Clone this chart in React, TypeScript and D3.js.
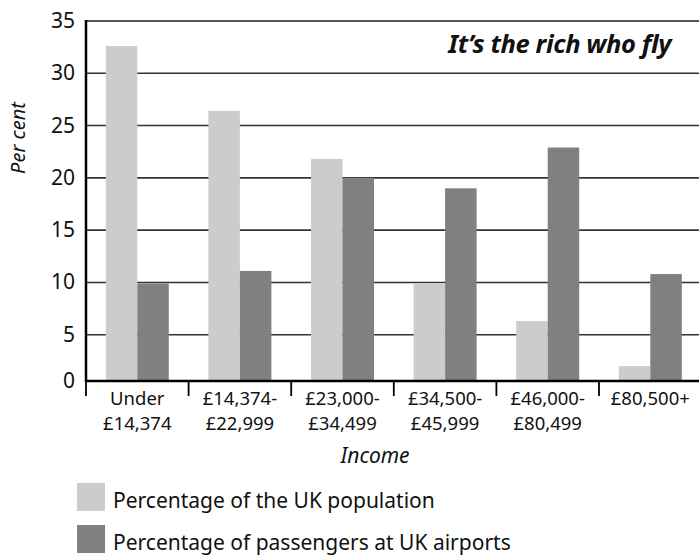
import React from "react";
import * as d3 from "d3";

const categories = [
  ["Under", "£14,374"],
  ["£14,374-", "£22,999"],
  ["£23,000-", "£34,499"],
  ["£34,500-", "£45,999"],
  ["£46,000-", "£80,499"],
  ["£80,500+"],
];
const populationPct = [32.6, 26.4, 21.8, 9.9, 6.3, 2.0];
const passengersPct = [9.9, 11.1, 20.0, 19.0, 22.9, 10.8];
const yTicks = [0, 5, 10, 15, 20, 25, 30, 35];
const seriesNames = ["Percentage of the UK population", "Percentage of passengers at UK airports"];
const seriesColors = ["#cccccc", "#808080"];

const W = 699;
const H = 559;
const left = 86;
const right = 701.6;
const top = 21;
const zeroY = 387;
const baseY = 381;
const FONT = "'Noto Sans', sans-serif";

export default function App() {
  const x0 = d3.scaleBand<number>().domain(d3.range(categories.length)).range([left, right]).padding(0);
  const groupW = 63;
  const x1 = d3.scaleBand<number>().domain([0, 1]).range([0, groupW]).padding(0);
  const y = d3.scaleLinear().domain([0, 35]).range([zeroY, top]);
  const series = [populationPct, passengersPct];

  return (
    <svg width={W} height={H} style={{ position: "absolute", left: 0, top: 0, display: "block" }} fontFamily={FONT}>
      <rect width={W} height={H} fill="#fff" />
      {/* gridlines */}
      {yTicks.filter((t) => t > 0 && t < 35).map((t) => (
        <line key={t} x1={left} x2={W} y1={y(t)} y2={y(t)} stroke="#333" strokeWidth={1.6} />
      ))}
      <line x1={left} x2={W} y1={y(35)} y2={y(35)} stroke="#555" strokeWidth={2} />
      {/* bars */}
      {series.map((vals, s) =>
        vals.map((v, i) => {
          const bx = (x0(i) as number) + (x0.bandwidth() - groupW) / 2 + (x1(s) as number);
          const yt = y(v);
          return (
            <rect key={`${s}-${i}`} x={bx} y={yt} width={x1.bandwidth()} height={Math.max(0, baseY - yt)} fill={seriesColors[s]} />
          );
        })
      )}
      {/* axes */}
      <line x1={left} x2={left} y1={top - 1} y2={baseY + 1} stroke="#000" strokeWidth={2.5} />
      <line x1={left - 1} x2={W} y1={baseY} y2={baseY} stroke="#000" strokeWidth={2.5} />
      {categories.map((_, i) => (
        <line key={i} x1={x0(i) as number} x2={x0(i) as number} y1={baseY} y2={baseY + 15} stroke="#000" strokeWidth={1.8} />
      ))}
      {/* y tick labels */}
      {yTicks.map((t) => (
        <text key={t} x={75} y={(t === 0 ? baseY : y(t)) + 7} textAnchor="end" fontSize={21} fill="#111">
          {t}
        </text>
      ))}
      {/* x labels */}
      {categories.map((lines, i) => (
        <text key={i} x={(x0(i) as number) + x0.bandwidth() / 2} textAnchor="middle" fontSize={18.5} fill="#111">
          {lines.map((l, k) => (
            <tspan key={k} x={(x0(i) as number) + x0.bandwidth() / 2} y={405 + k * 25}>
              {l}
            </tspan>
          ))}
        </text>
      ))}
      <text x={375} y={463} textAnchor="middle" fontSize={21} fontStyle="italic" fill="#111">
        Income
      </text>
      <text transform={`translate(25,138) rotate(-90)`} textAnchor="middle" fontSize={20} fontStyle="italic" fill="#111">
        Per cent
      </text>
      <text x={671} y={53} textAnchor="end" fontSize={25.5} fontWeight="bold" fontStyle="italic" letterSpacing={-0.4} fill="#111">
        It’s the rich who fly
      </text>
      {/* legend */}
      {seriesNames.map((n, s) => (
        <g key={n} transform={`translate(77,${483 + s * 42})`}>
          <rect width={28} height={28} fill={seriesColors[s]} />
          <text x={36} y={25} fontSize={21} fill="#111">
            {n}
          </text>
        </g>
      ))}
    </svg>
  );
}
